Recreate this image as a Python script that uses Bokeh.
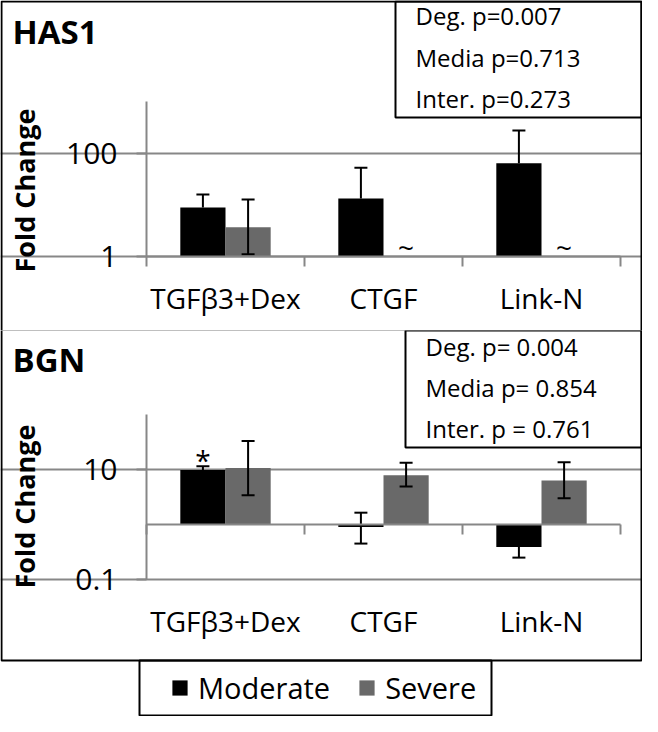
import math
from bokeh.plotting import figure
from bokeh.models import (FixedTicker, LinearAxis, LogAxis, Label, BoxAnnotation, Legend,
                          LegendItem, CustomJSTickFormatter, ColumnDataSource)
from bokeh.layouts import column
from bokeh.embed import file_html
from bokeh.resources import INLINE

# ---------------- data ----------------
categories = ["TGFβ3+Dex", "CTGF", "Link-N"]
series = ["Moderate", "Severe"]
colors = ["#000000", "#696969"]

has1_moderate = [8.9, 13.3, 64.0]
has1_moderate_lo = [None, None, None]
has1_moderate_hi = [15.9, 52.0, 275.0]
has1_severe = [3.7, None, None]
has1_severe_lo = [1.1, None, None]
has1_severe_hi = [12.7, None, None]
has1_severe_note = ["", "~", "~"]
has1_moderate_note = ["", "", ""]
has1_stats = ["Deg. p=0.007", "Media p=0.713", "Inter. p=0.273"]
has1_yticks = [1, 100]
has1_yrange = (1, 1000)

bgn_moderate = [9.8, 0.9, 0.39]
bgn_moderate_lo = [None, 0.45, 0.25]
bgn_moderate_hi = [11.5, 1.64, None]
bgn_severe = [10.6, 7.9, 6.3]
bgn_severe_lo = [3.4, 4.9, 3.0]
bgn_severe_hi = [33.0, 13.3, 13.5]
bgn_moderate_note = ["*", "", ""]
bgn_severe_note = ["", "", ""]
bgn_stats = ["Deg. p= 0.004", "Media p= 0.854", "Inter. p = 0.761"]
bgn_yticks = [0.1, 10]
bgn_yrange = (0.1, 100)

y_title = "Fold Change"

# ---------------- style / layout (pixels) ----------------
FONT = "Open Sans"
GRAY = "#878787"
W = 642
BW = 0.286
NAN = float("nan")
FX0, FX1 = 146, 620          # data x = 0 .. 3 in canvas pixels


def nz(v):
    return NAN if v is None else v


def canvas_box(**kw):
    return BoxAnnotation(left_units="canvas", right_units="canvas",
                         top_units="canvas", bottom_units="canvas",
                         line_alpha=1, **kw)


def make_panel(title, mod, mod_lo, mod_hi, sev, sev_lo, sev_hi, mod_note, sev_note,
               yrange, yticks, stats, H, fy_top, fy_bot, axis_at, label_at,
               ytitle_center, xlabel_standoff, stats_box, stats_x, stats_y,
               title_y, box_tb):
    ncat = len(categories)
    ux = (FX1 - FX0) / ncat
    x_start = -FX0 / ux
    x_end = ncat + (W - FX1) / ux
    lo_d, hi_d = math.log10(yrange[0]), math.log10(yrange[1])
    dec = (fy_bot - fy_top) / (hi_d - lo_d)
    y_start = 10 ** (lo_d - (H - fy_bot) / dec)
    y_end = 10 ** (hi_d + fy_top / dec)

    def px_to_y(py):
        return 10 ** (lo_d - (py - fy_bot) / dec)

    p = figure(width=W, height=H, x_range=(x_start, x_end), y_range=(y_start, y_end),
               y_axis_type="log", output_backend="svg", toolbar_location=None,
               min_border=0, min_border_left=0, min_border_right=0,
               min_border_top=0, min_border_bottom=0)
    p.outline_line_color = None
    p.background_fill_color = "white"
    p.border_fill_color = "white"
    p.xgrid.visible = False

    # y axis (fixed at the left edge of the data area)
    ya = p.yaxis[0]
    ya.fixed_location = 0
    ya.bounds = yrange
    ya.ticker = FixedTicker(ticks=yticks, minor_ticks=[])
    ya.formatter = CustomJSTickFormatter(code="return tick.toString();")
    ya.axis_line_color = GRAY
    ya.axis_line_width = 2
    ya.major_tick_line_color = GRAY
    ya.major_tick_line_width = 2
    ya.major_tick_out = 10
    ya.major_tick_in = 0
    ya.minor_tick_out = 0
    ya.minor_tick_in = 0
    ya.major_label_text_font = FONT
    ya.major_label_text_font_size = "30px"
    ya.major_label_text_color = "black"
    ya.major_label_standoff = 19

    # axis title carried by a line-less companion axis, centred where the reference has it
    ta = LogAxis(fixed_location=0,
                 bounds=(px_to_y(ytitle_center + 60), px_to_y(ytitle_center - 60)),
                 ticker=FixedTicker(ticks=[], minor_ticks=[]))
    ta.axis_line_color = None
    ta.major_tick_line_color = None
    ta.minor_tick_line_color = None
    ta.major_tick_out = 0
    ta.major_tick_in = 0
    ta.minor_tick_out = 0
    ta.minor_tick_in = 0
    ta.major_label_standoff = 0
    ta.axis_label = y_title
    ta.axis_label_text_font = FONT
    ta.axis_label_text_font_size = "27px"
    ta.axis_label_text_font_style = "bold"
    ta.axis_label_text_color = "black"
    ta.axis_label_standoff = 104
    p.add_layout(ta, "left")

    p.ygrid.ticker = FixedTicker(ticks=yticks, minor_ticks=[])
    p.ygrid.bounds = (0, ncat)
    p.ygrid.grid_line_color = GRAY
    p.ygrid.grid_line_width = 2

    mids = [i + 0.5 for i in range(ncat)]
    bounds_ticks = list(range(ncat + 1))

    # base axis (line + boundary ticks) at fold change = 1
    xa = p.xaxis[0]
    xa.fixed_location = axis_at
    xa.bounds = (0, ncat)
    xa.axis_line_color = GRAY
    xa.axis_line_width = 2
    xa.minor_tick_line_color = GRAY
    xa.minor_tick_line_width = 2
    xa.minor_tick_out = 10
    xa.minor_tick_in = 0
    xa.major_tick_in = 0
    xa.major_tick_out = 0
    xa.major_label_text_font = FONT
    xa.major_label_text_font_size = "28px"
    xa.major_label_text_color = "black"
    xa.major_label_standoff = xlabel_standoff
    if label_at == axis_at:
        xa.ticker = FixedTicker(ticks=mids, minor_ticks=bounds_ticks)
        xa.major_label_overrides = {m: c for m, c in zip(mids, categories)}
    else:
        xa.ticker = FixedTicker(ticks=[], minor_ticks=bounds_ticks)
        la = LinearAxis(fixed_location=label_at, bounds=(0, ncat),
                        ticker=FixedTicker(ticks=mids, minor_ticks=[]))
        la.major_label_overrides = {m: c for m, c in zip(mids, categories)}
        la.axis_line_color = None
        la.major_tick_line_color = None
        la.minor_tick_line_color = None
        la.major_tick_in = 0
        la.major_tick_out = 0
        la.major_label_text_font = FONT
        la.major_label_text_font_size = "28px"
        la.major_label_text_color = "black"
        la.major_label_standoff = xlabel_standoff
        p.add_layout(la, "below")

    x_mod = [m - BW / 2 for m in mids]
    x_sev = [m + BW / 2 for m in mids]
    base = 1
    bars = []
    for xs, vals, lo, hi, col, note in ((x_mod, mod, mod_lo, mod_hi, colors[0], mod_note),
                                        (x_sev, sev, sev_lo, sev_hi, colors[1], sev_note)):
        src = ColumnDataSource(dict(
            x=xs, top=[nz(v) for v in vals],
            lo=[nz(l if l is not None else v) for l, v in zip(lo, vals)],
            hi=[nz(h if h is not None else v) for h, v in zip(hi, vals)],
            lo_cap=[nz(l) for l in lo], hi_cap=[nz(h) for h in hi],
            base=[base] * len(xs)))
        r = p.vbar(x="x", bottom="base", top="top", width=BW, source=src,
                   fill_color=col, line_color=None)
        bars.append(r)
        p.segment(x0="x", y0="lo", x1="x", y1="hi", source=src,
                  line_color="black", line_width=2)
        p.scatter(x="x", y="lo_cap", marker="dash", size=13, source=src,
                  line_color="black", line_width=2)
        p.scatter(x="x", y="hi_cap", marker="dash", size=13, source=src,
                  line_color="black", line_width=2)
        for xv, v, n in zip(xs, vals, note):
            if n:
                p.add_layout(Label(x=xv, y=(v if v is not None else base), text=n,
                                   y_offset=10,
                                   text_align="center", text_baseline="alphabetic",
                                   text_font=FONT, text_font_size="28px",
                                   text_color="black"))

    # statistics box
    sl, st, sb = stats_box
    p.add_layout(canvas_box(left=sl, right=W - 1, top=st, bottom=sb,
                            fill_color="white", fill_alpha=1,
                            line_color="black", line_width=2))
    for txt, yy in zip(stats, stats_y):
        p.add_layout(Label(x=stats_x, y=yy, x_units="canvas", y_units="canvas",
                           text=txt, text_font=FONT, text_font_size="24px",
                           text_baseline="alphabetic", text_color="black"))
    p.add_layout(Label(x=12, y=title_y, x_units="canvas", y_units="canvas",
                       text=title, text_font=FONT, text_font_size="33px",
                       text_font_style="bold", text_baseline="alphabetic",
                       text_color="black"))
    bt, bb = box_tb
    p.add_layout(canvas_box(left=1, right=W - 1, top=bt, bottom=bb,
                            fill_alpha=0, line_color="black", line_width=2))
    return p, bars


p1, _ = make_panel("HAS1", has1_moderate, has1_moderate_lo, has1_moderate_hi,
                   has1_severe, has1_severe_lo, has1_severe_hi,
                   has1_moderate_note, has1_severe_note,
                   has1_yrange, has1_yticks, has1_stats, 330, 101, 256, 1, 1, 190, 12,
                   (395, 1, 117), 415, [15, 57, 98], 31, (1, 331))

p2, bars2 = make_panel("BGN", bgn_moderate, bgn_moderate_lo, bgn_moderate_hi,
                       bgn_severe, bgn_severe_lo, bgn_severe_hi,
                       bgn_moderate_note, bgn_severe_note,
                       bgn_yrange, bgn_yticks, bgn_stats, 386, 84, 249, 1, 0.1, 176, 22,
                       (405, 0, 117), 425, [16, 57, 98], 28.5, (-1, 330))

# legend below the BGN panel
leg = Legend(items=[LegendItem(label=s, renderers=[r]) for s, r in zip(series, bars2)],
             orientation="horizontal", location=(170, 9),
             border_line_color=None, background_fill_alpha=0,
             glyph_width=19, glyph_height=19, label_standoff=9, spacing=27,
             padding=0, margin=0, label_text_font=FONT, label_text_font_size="29px",
             label_text_color="black")
p2.add_layout(leg)
p2.add_layout(canvas_box(left=139, right=491, top=330, bottom=385,
                         fill_alpha=0, line_color="black", line_width=2))

layout = column(p1, p2, spacing=0)
open("out.html", "w").write(file_html(layout, INLINE))
